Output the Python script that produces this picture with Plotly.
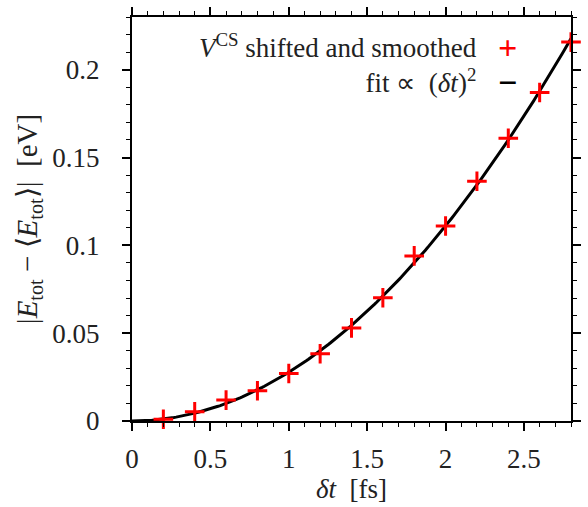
import numpy as np
import plotly.graph_objects as go

# time step [fs] and total-energy drift [eV]
dt = [0.2, 0.4, 0.6, 0.8, 1.0, 1.2, 1.4, 1.6, 1.8, 2.0, 2.2, 2.4, 2.6, 2.8]
drift = [0.0010, 0.0053, 0.0119, 0.0172, 0.0270, 0.0383, 0.0530, 0.0702,
         0.0940, 0.1110, 0.1365, 0.1610, 0.1870, 0.2157]

# series labels and their key glyphs
labels = ["<i>V</i><sup>CS</sup> shifted and smoothed", "fit ∝  (<i>δt</i>)<sup>2</sup>"]
keys = ["<span style='color:#ff0000;font-size:34px'><b>+</b></span>",
        "<span style='color:black;font-size:34px'><b>−</b></span>"]

# quadratic fit through the origin: drift = a * dt^2
dt_arr = np.array(dt)
dr_arr = np.array(drift)
a = float(np.sum(dr_arr * dt_arr**2) / np.sum(dt_arr**4))
dt_fit = np.linspace(0, 2.8, 200)
drift_fit = a * dt_fit**2

FONT = "Liberation Serif"
TXT = "#222"

fig = go.Figure()
fig.add_trace(go.Scatter(
    x=dt_fit, y=drift_fit, mode="lines",
    line=dict(color="black", width=3),
    name="fit", showlegend=False, cliponaxis=True,
))
fig.add_trace(go.Scatter(
    x=dt, y=drift, mode="markers",
    marker=dict(symbol="cross-thin", size=14, line=dict(color="#ff0000", width=3)),
    name="V^CS shifted and smoothed", showlegend=False, cliponaxis=False,
))

axis_common = dict(
    showline=True, linecolor="black", linewidth=2, mirror="allticks",
    ticks="outside", ticklen=8, tickwidth=1.5, tickcolor="black",
    showgrid=False, zeroline=False,
    tickfont=dict(family=FONT, size=27, color=TXT),
)

fig.update_xaxes(
    range=[0, 2.8], dtick=0.5, tick0=0, ticklabelstandoff=5,
    minor=dict(dtick=0.1, ticklen=4, tickwidth=1, tickcolor="black", ticks="outside"),
    title=dict(text="<i>δt</i>  [fs]", font=dict(family=FONT, size=27, color=TXT), standoff=4),
    **axis_common,
)
fig.update_yaxes(
    range=[0, 0.23], dtick=0.05, tick0=0, ticklabelstandoff=17,
    minor=dict(dtick=0.01, ticklen=4, tickwidth=1, tickcolor="black", ticks="outside"),
    title=dict(text="|<i>E</i><sub>tot</sub> − ⟨<i>E</i><sub>tot</sub>⟩|  [eV]",
               font=dict(family=FONT, size=29, color=TXT), standoff=6),
    **axis_common,
)

# key: text column (right-aligned) and glyph column
fig.add_annotation(
    xref="paper", yref="paper", x=0.79, y=0.975, xanchor="right", yanchor="top",
    align="right", text="<br>".join(labels), showarrow=False,
    font=dict(family=FONT, size=27, color=TXT),
)
fig.add_annotation(
    xref="paper", yref="paper", x=0.855, y=0.975, xanchor="center", yanchor="top",
    align="center", text="<br>".join(keys), showarrow=False,
    font=dict(family=FONT, size=27, color=TXT),
)

fig.update_layout(
    width=588, height=507,
    margin=dict(l=132, r=7, t=14, b=86),
    paper_bgcolor="white", plot_bgcolor="white",
    font=dict(family=FONT),
    showlegend=False,
)

fig.write_html("out.html")
